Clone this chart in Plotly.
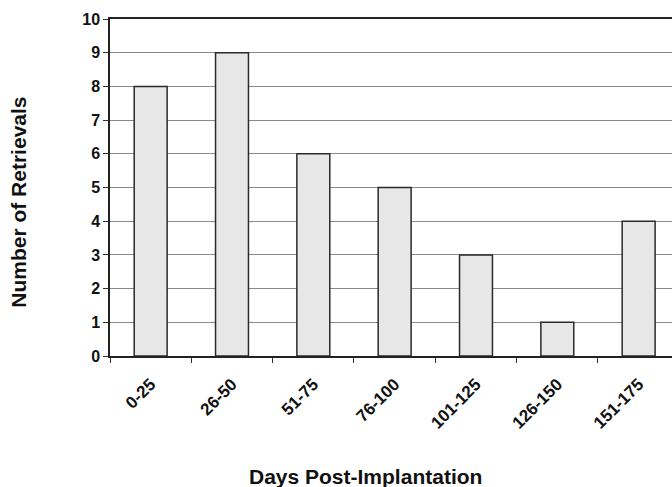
import plotly.graph_objects as go

categories = ["0-25", "26-50", "51-75", "76-100", "101-125", "126-150", "151-175"]
retrievals = [8, 9, 6, 5, 3, 1, 4]
y_ticks = list(range(0, 11))

fig = go.Figure()
fig.add_trace(go.Bar(
    x=categories, y=retrievals, width=0.405,
    marker=dict(color="#e6e7e6", line=dict(color="#2a2a2a", width=1.5)),
))

fig.update_layout(
    width=672, height=487,
    margin=dict(l=110, r=0, t=19, b=131),
    plot_bgcolor="white", paper_bgcolor="white",
    showlegend=False,
    font=dict(family="Liberation Sans, Arial, sans-serif", color="#111"),
)
fig.update_xaxes(
    type="category", range=[-0.5, 6.41],
    showline=True, linecolor="#222", linewidth=1.5, mirror=True,
    ticks="outside", ticklen=5, tickcolor="#333", tickson="boundaries",
    tickangle=-45, tickfont=dict(size=17, color="#111", weight="bold"),
    ticklabelstandoff=10,
    showgrid=False,
)
fig.update_yaxes(
    range=[0, 10], tickvals=y_ticks,
    showline=True, linecolor="#222", linewidth=1.5,
    ticks="outside", ticklen=5, tickcolor="#333",
    tickfont=dict(size=16, color="#111", weight="bold"),
    showgrid=True, gridcolor="#8a8a8a", gridwidth=1,
    zeroline=False,
)
fig.add_annotation(text="<b>Number of Retrievals</b>", xref="paper", yref="paper",
                   x=-0.163, y=0.456, textangle=-90, showarrow=False,
                   font=dict(size=21, color="#111"), xanchor="center", yanchor="middle")
fig.add_annotation(text="<b>Days Post-Implantation</b>", xref="paper", yref="paper",
                   x=0.454, y=-0.357, showarrow=False,
                   font=dict(size=21, color="#111"), xanchor="center", yanchor="middle")

html = fig.to_html(full_html=True, include_plotlyjs=True,
                   config={"displayModeBar": False})
html = html.replace("<body>", '<body style="margin:0;padding:0;overflow:hidden">', 1)
with open("out.html", "w", encoding="utf-8") as f:
    f.write(html)
# fig.write_html("out.html")
